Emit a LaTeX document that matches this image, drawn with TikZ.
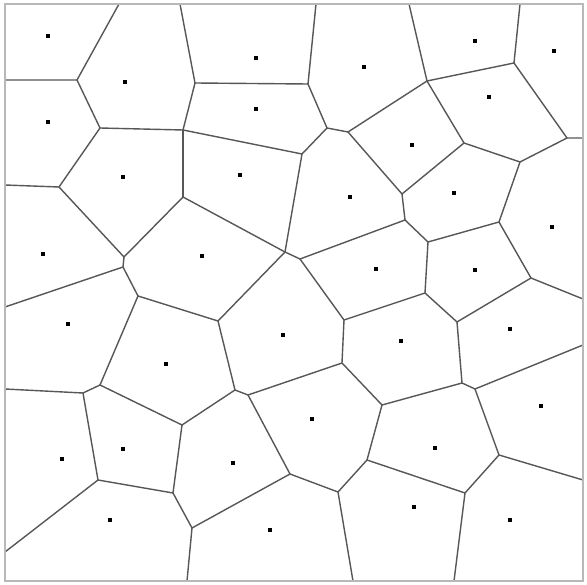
\documentclass[tikz,border=0pt]{standalone}
\begin{document}
\begin{tikzpicture}[x=1pt,y=-1pt,
  edge/.style={draw=black!66,line width=1.4pt,line cap=round,line join=round},
  site/.style={rectangle,fill=black,inner sep=0pt,minimum size=4.6pt},
  frame/.style={draw=black!28,line width=2.8pt}]
\useasboundingbox (0,0) rectangle (587,585);
\fill[white] (0,0) rectangle (587,585);
% vertices
\coordinate (V1) at (77,80);
\coordinate (V2) at (100,128);
\coordinate (V3) at (183,130);
\coordinate (V4) at (195,83);
\coordinate (V5) at (308,84);
\coordinate (V6) at (327,128);
\coordinate (V7) at (348,132);
\coordinate (V8) at (302,154);
\coordinate (V9) at (427,81);
\coordinate (V10) at (514,63);
\coordinate (V11) at (567,138);
\coordinate (V12) at (520,162);
\coordinate (V13) at (464,143);
\coordinate (V14) at (402,194);
\coordinate (V15) at (405,220);
\coordinate (V16) at (428,242);
\coordinate (V17) at (499,222);
\coordinate (V18) at (531,278);
\coordinate (V19) at (457,322);
\coordinate (V20) at (425,293);
\coordinate (V21) at (59,187);
\coordinate (V22) at (183,197);
\coordinate (V23) at (124,257);
\coordinate (V24) at (123,267);
\coordinate (V25) at (138,296);
\coordinate (V26) at (285,252);
\coordinate (V27) at (300,259);
\coordinate (V28) at (218,321);
\coordinate (V29) at (344,320);
\coordinate (V30) at (342,363);
\coordinate (V31) at (100,385);
\coordinate (V32) at (83,393);
\coordinate (V33) at (98,480);
\coordinate (V34) at (173,493);
\coordinate (V35) at (182,425);
\coordinate (V36) at (192,528);
\coordinate (V37) at (235,390);
\coordinate (V38) at (248,395);
\coordinate (V39) at (290,474);
\coordinate (V40) at (338,492);
\coordinate (V41) at (367,460);
\coordinate (V42) at (382,405);
\coordinate (V43) at (462,383);
\coordinate (V44) at (475,389);
\coordinate (V45) at (499,455);
\coordinate (V46) at (465,493);
% border ends
\coordinate (T1) at (119,4);
\coordinate (T4) at (180,4);
\coordinate (T5) at (316,4);
\coordinate (T9) at (409,4);
\coordinate (T10) at (520,4);
\coordinate (L1) at (5,80);
\coordinate (L21) at (5,185);
\coordinate (L24) at (5,307);
\coordinate (L32) at (5,389);
\coordinate (L33) at (5,552);
\coordinate (R11) at (583,138);
\coordinate (R18) at (583,299);
\coordinate (R44) at (583,345);
\coordinate (R45) at (583,480);
\coordinate (B36) at (187,581);
\coordinate (B40) at (353,581);
\coordinate (B46) at (454,581);
% edges
\draw[edge] (T1) -- (V1) -- (L1);
\draw[edge] (V1) -- (V2) -- (V3) -- (V4) -- (T4);
\draw[edge] (V2) -- (V21) -- (L21);
\draw[edge] (V3) -- (V22);
\draw[edge] (V3) -- (V8);
\draw[edge] (V4) -- (V5) -- (T5);
\draw[edge] (V5) -- (V6) -- (V7);
\draw[edge] (V6) -- (V8) -- (V26);
\draw[edge] (V7) -- (V9) -- (T9);
\draw[edge] (V7) -- (V14);
\draw[edge] (V9) -- (V10) -- (T10);
\draw[edge] (V9) -- (V13);
\draw[edge] (V10) -- (V11) -- (R11);
\draw[edge] (V11) -- (V12) -- (V13) -- (V14) -- (V15);
\draw[edge] (V12) -- (V17);
\draw[edge] (V15) -- (V27);
\draw[edge] (V15) -- (V16) -- (V17) -- (V18) -- (R18);
\draw[edge] (V16) -- (V20) -- (V29);
\draw[edge] (V18) -- (V19) -- (V20);
\draw[edge] (V19) -- (V43);
\draw[edge] (V21) -- (V23) -- (V22) -- (V26);
\draw[edge] (V23) -- (V24) -- (L24);
\draw[edge] (V24) -- (V25) -- (V28);
\draw[edge] (V25) -- (V31);
\draw[edge] (V26) -- (V27) -- (V29);
\draw[edge] (V26) -- (V28) -- (V37);
\draw[edge] (V29) -- (V30) -- (V38);
\draw[edge] (V30) -- (V42);
\draw[edge] (V31) -- (V32) -- (L32);
\draw[edge] (V31) -- (V35);
\draw[edge] (V32) -- (V33) -- (L33);
\draw[edge] (V33) -- (V34) -- (V35) -- (V37);
\draw[edge] (V34) -- (V36) -- (B36);
\draw[edge] (V36) -- (V39);
\draw[edge] (V37) -- (V38) -- (V39) -- (V40) -- (B40);
\draw[edge] (V40) -- (V41) -- (V42) -- (V43) -- (V44) -- (R44);
\draw[edge] (V41) -- (V46) -- (B46);
\draw[edge] (V44) -- (V45) -- (R45);
\draw[edge] (V45) -- (V46);
% frame
\draw[frame] (5,4) rectangle (583,581);
% sites
\foreach \n/\p in {s1/{48,36},s2/{125,82},s3/{48,122},s4/{123,177},s5/{256,58},
  s6/{256,109},s7/{240,175},s8/{364,67},s9/{350,197},s10/{475,41},s11/{554,51},
  s12/{489,97},s13/{412,145},s14/{454,193},s15/{43,254},s16/{68,324},s17/{166,364},
  s18/{202,256},s19/{376,269},s20/{283,335},s21/{552,227},s22/{475,270},s23/{510,329},
  s24/{401,341},s25/{62,459},s26/{123,449},s27/{110,520},s28/{312,419},s29/{233,463},
  s30/{270,530},s31/{541,406},s32/{435,448},s33/{414,507},s34/{510,520}}
  \node[site] (\n) at (\p) {};
\end{tikzpicture}
\end{document}
